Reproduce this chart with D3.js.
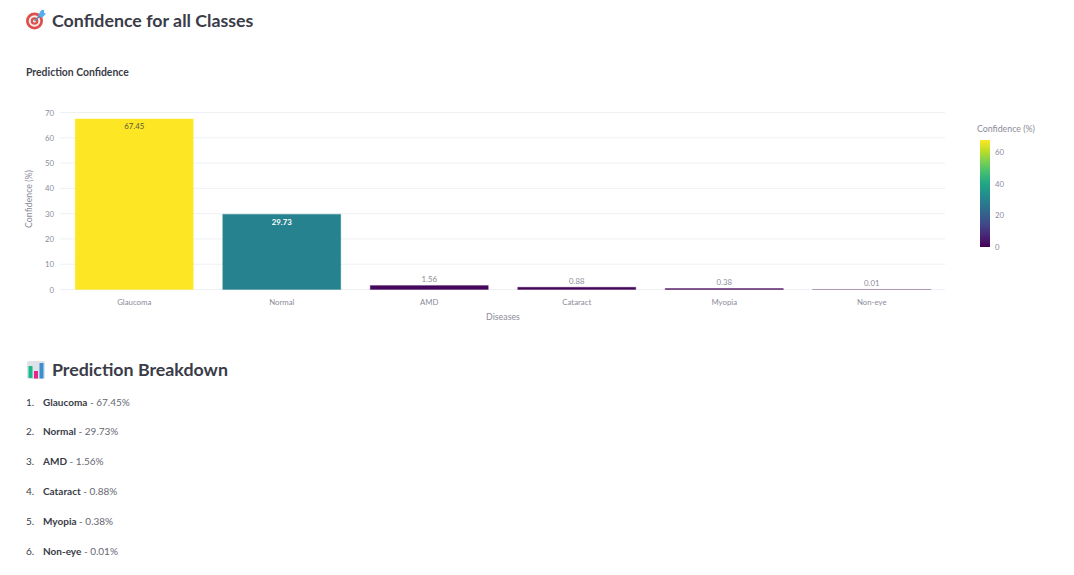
<!DOCTYPE html>
<html>
<head>
<meta charset="utf-8">
<script src="https://cdn.jsdelivr.net/npm/d3@7"></script>
<style>
  html, body { margin: 0; background: #fff; overflow: hidden; }
  svg { display: block; font-family: Lato, sans-serif; }
  .axis path { display: none; }
  .axis text { fill: #8b8c99; font-size: 7.8px; font-family: Lato, sans-serif; }
</style>
</head>
<body>
<svg width="1074" height="575"></svg>
<script>
const categories = ['Glaucoma', 'Normal', 'AMD', 'Cataract', 'Myopia', 'Non-eye'];
const confidence = [67.45, 29.73, 1.56, 0.88, 0.38, 0.01];
const yTicks = [0, 10, 20, 30, 40, 50, 60, 70];
const colorTicks = [0, 20, 40, 60];

const DARK = '#3a3c48', MUTED = '#8b8c99', GRID = '#eef0f3';

const svg = d3.select('svg');

// page headings
svg.append('text').attr('x', 52).attr('y', 26.5)
    .attr('font-size', 17.8).attr('font-weight', 700).attr('fill', DARK)
    .text('Confidence for all Classes');
svg.append('text').attr('x', 26).attr('y', 75.5)
    .attr('font-size', 10.4).attr('font-weight', 700).attr('fill', DARK)
    .text('Prediction Confidence');
svg.append('text').attr('x', 52).attr('y', 376)
    .attr('font-size', 17.8).attr('font-weight', 700).attr('fill', DARK)
    .text('Prediction Breakdown');

// target icon
const target = svg.append('g').attr('transform', 'translate(34.5,21)');
target.append('circle').attr('r', 8.5).attr('fill', '#dd4f4a');
target.append('circle').attr('r', 5.8).attr('fill', '#f5eeee');
target.append('circle').attr('r', 3.8).attr('fill', '#dd4f4a');
target.append('circle').attr('r', 1.6).attr('fill', '#f5eeee');
target.append('line').attr('x1', 0).attr('y1', 0).attr('x2', 7).attr('y2', -7)
    .attr('stroke', '#5a8fb5').attr('stroke-width', 1.6);
target.append('path').attr('d', 'M3.5,-6 L7,-11 L9.5,-11 L9.5,-8 L11.5,-7.5 L7.5,-3 Z').attr('fill', '#55acee');

// bar chart icon
const icon = svg.append('g').attr('transform', 'translate(27,361)');
icon.append('rect').attr('width', 18).attr('height', 18).attr('rx', 2).attr('fill', '#dfe3e8');
icon.append('rect').attr('x', 1.5).attr('y', 5).attr('width', 4).attr('height', 12).attr('fill', '#19b88a');
icon.append('rect').attr('x', 7).attr('y', 10).attr('width', 4).attr('height', 7.5).attr('fill', '#e5258c');
icon.append('rect').attr('x', 12.5).attr('y', 2).attr('width', 4).attr('height', 15.5).attr('fill', '#3a8fd0');

// chart
const x = d3.scaleBand().domain(categories).range([60.5, 945.5]).paddingInner(0.2).paddingOuter(0.1);
const y = d3.scaleLinear().domain([0, 70]).range([289.5, 112.5]);
const color = d3.scaleSequential(d3.interpolateViridis).domain([d3.min(confidence), d3.max(confidence)]);

svg.append('g').selectAll('line').data(yTicks).enter().append('line')
    .attr('x1', 60).attr('x2', 945)
    .attr('y1', d => y(d)).attr('y2', d => y(d))
    .attr('stroke', GRID).attr('stroke-width', 1);

svg.append('g').attr('class', 'axis')
    .attr('transform', 'translate(60,0)')
    .call(d3.axisLeft(y).tickValues(yTicks).tickSize(0).tickPadding(6));

svg.append('g').attr('class', 'axis')
    .attr('transform', 'translate(0,289.5)')
    .call(d3.axisBottom(x).tickSize(0).tickPadding(9.5));

svg.append('text').attr('transform', 'translate(32,199) rotate(-90)')
    .attr('text-anchor', 'middle').attr('font-size', 8.8).attr('fill', MUTED)
    .text('Confidence (%)');
svg.append('text').attr('x', 503).attr('y', 320)
    .attr('text-anchor', 'middle').attr('font-size', 8.8).attr('fill', MUTED)
    .text('Diseases');

svg.append('g').selectAll('rect').data(confidence).enter().append('rect')
    .attr('x', (d, i) => x(categories[i]))
    .attr('width', x.bandwidth())
    .attr('y', d => y(d))
    .attr('height', d => y(0) - y(d))
    .attr('fill', d => color(d))
    .attr('stroke', d => color(d))
    .attr('stroke-opacity', 0.35)
    .attr('stroke-width', 1);

// value labels sit inside tall bars, above short ones
svg.append('g').selectAll('text').data(confidence).enter().append('text')
    .attr('x', (d, i) => x(categories[i]) + x.bandwidth() / 2)
    .attr('y', d => d > 10 ? y(d) + 10.5 : y(d) - 3.5)
    .attr('text-anchor', 'middle')
    .attr('font-size', 7.8)
    .attr('fill', d => d > 50 ? '#5c5a3a' : d > 10 ? '#fff' : MUTED)
    .attr('font-weight', d => d > 10 && d < 50 ? 700 : 400)
    .text(d => d.toFixed(2));

// colorbar
const cbar = d3.scaleLinear().domain([0, d3.max(confidence)]).range([247, 140]);
const gradient = svg.append('defs').append('linearGradient')
    .attr('id', 'viridis').attr('x1', 0).attr('x2', 0).attr('y1', 1).attr('y2', 0);
gradient.selectAll('stop').data(d3.range(0, 1.01, 0.1)).enter().append('stop')
    .attr('offset', d => d)
    .attr('stop-color', d => d3.interpolateViridis(d));

svg.append('rect').attr('x', 980).attr('y', cbar.range()[1])
    .attr('width', 10).attr('height', cbar.range()[0] - cbar.range()[1])
    .attr('fill', 'url(#viridis)');
svg.append('g').attr('class', 'axis')
    .attr('transform', 'translate(990,0)')
    .call(d3.axisRight(cbar).tickValues(colorTicks).tickSize(0).tickPadding(5));
svg.append('text').attr('x', 977).attr('y', 132)
    .attr('font-size', 8.8).attr('fill', MUTED)
    .text('Confidence (%)');

// ranked list below the chart
const listY = d3.scalePoint().domain(categories).range([405.5, 554.5]);
const rows = svg.append('g').selectAll('g').data(categories).enter().append('g')
    .attr('transform', d => 'translate(0,' + listY(d) + ')');
rows.append('text').attr('x', 26).attr('font-size', 10).attr('fill', DARK)
    .text((d, i) => (i + 1) + '.');
const line = rows.append('text').attr('x', 43).attr('font-size', 10).attr('fill', DARK);
line.append('tspan').attr('font-weight', 700).text(d => d);
line.append('tspan').attr('fill', '#666771').text((d, i) => ' - ' + confidence[i].toFixed(2) + '%');
</script>
</body>
</html>
